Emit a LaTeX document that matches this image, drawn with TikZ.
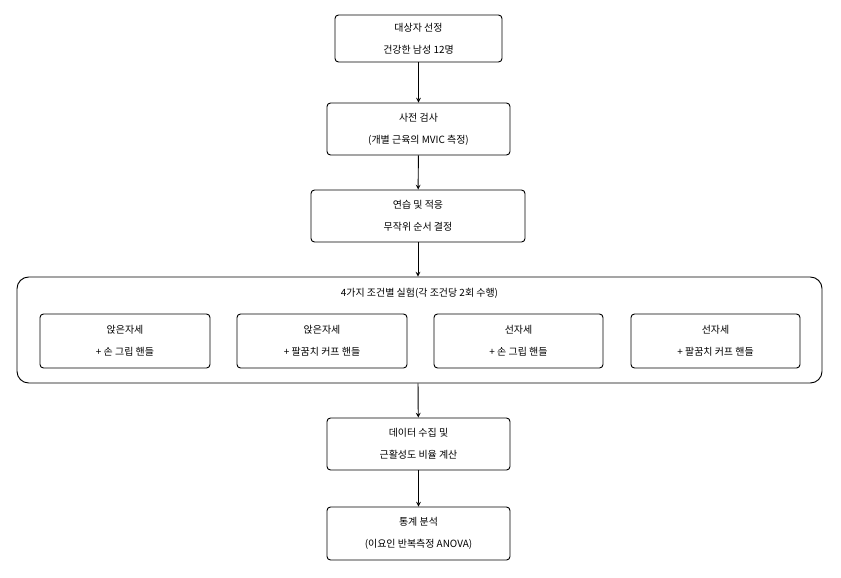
\documentclass[tikz,border=0pt]{standalone}
\usepackage{fontspec}
\setmainfont{Noto Sans CJK KR}
\usetikzlibrary{positioning}

\begin{document}
\begin{tikzpicture}[x=0.03cm, y=-0.03cm, >=stealth,
	box/.style={draw, thick, rounded corners=3pt, align=center, font=\fontsize{8.5}{19}\selectfont, inner sep=0pt},
	flow/.style={->, thick}]
	\useasboundingbox (0,0) rectangle (841,577);
	
	\node[box, minimum width=5.01cm, minimum height=1.41cm] (sel) at (418.5,38.5) {대상자 선정\\건강한 남성 12명};
	\node[box, minimum width=5.49cm, minimum height=1.56cm] (pre) at (418.5,129) {사전 검사\\(개별 근육의 MVIC 측정)};
	\node[box, minimum width=6.42cm, minimum height=1.56cm] (prac) at (418,216) {연습 및 적응\\무작위 순서 결정};
	\node[box, rounded corners=10pt, minimum width=24.15cm, minimum height=3.18cm] (exp) at (419.5,330) {};
	\node[font=\fontsize{8.5}{10}\selectfont] (title) at (419.5,293) {4가지 조건별 실험(각 조건당 2회 수행)};
	
	%조건:
	\node[box, minimum width=5.1cm, minimum height=1.62cm] (c1) at (125,341) {앉은자세\\+ 손 그립 핸들};
	\node[box, minimum width=5.1cm, minimum height=1.62cm] (c2) at (322,341) {앉은자세\\+ 팔꿈치 커프 핸들};
	\node[box, minimum width=5.07cm, minimum height=1.62cm] (c3) at (518.5,341) {선자세\\+ 손 그립 핸들};
	\node[box, minimum width=5.07cm, minimum height=1.62cm] (c4) at (715.5,341) {선자세\\+ 팔꿈치 커프 핸들};
	
	\node[box, minimum width=5.49cm, minimum height=1.56cm] (data) at (418.5,444) {데이터 수집 및\\근활성도 비율 계산};
	\node[box, minimum width=5.49cm, minimum height=1.59cm] (stat) at (418.5,533.5) {통계 분석\\(이요인 반복측정 ANOVA)};
	
	\draw[flow] (sel) -- (pre);
	\draw[flow] (pre) -- (prac);
	\draw[flow] (prac) -- (prac |- exp.north);
	\draw[flow] (prac |- exp.south) -- (data);
	\draw[flow] (data) -- (stat);
\end{tikzpicture}
\end{document}
